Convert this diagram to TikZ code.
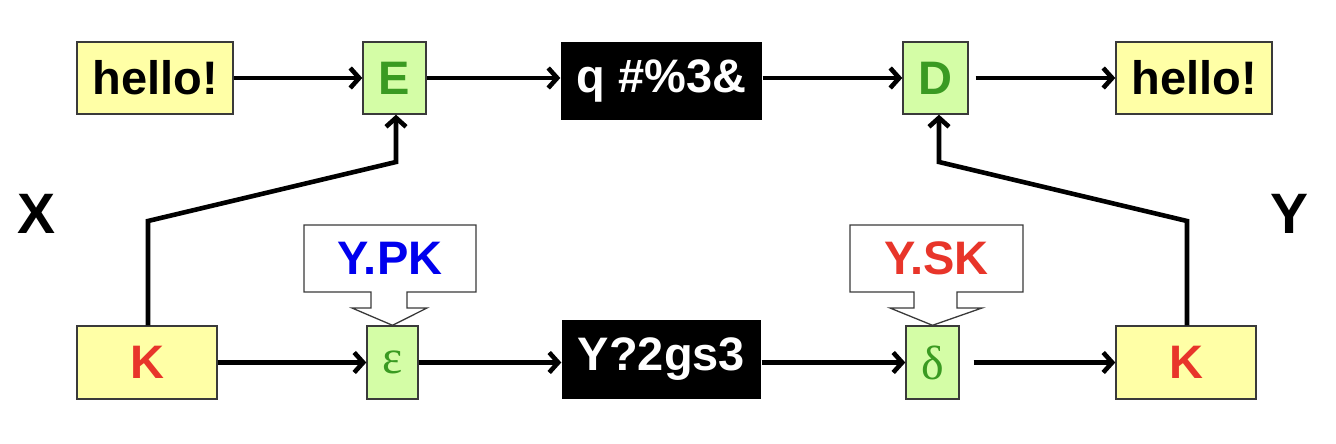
\documentclass[tikz,border=0pt]{standalone}
\usepackage{fontspec}
\setmainfont{Liberation Sans}
\newfontfamily\greekfont{Liberation Serif}
\usetikzlibrary{arrows.meta}
\definecolor{boxyellow}{HTML}{FFFFA6}
\definecolor{boxgreen}{HTML}{D4FDA6}
\definecolor{txtgreen}{HTML}{3A9A22}
\definecolor{txtred}{HTML}{E8352A}
\definecolor{txtblue}{HTML}{0000EE}
\definecolor{edge}{HTML}{3A3A3A}
\tikzset{
  base/.style={inner sep=0pt, font=\fontsize{47}{47}\selectfont\bfseries, line width=1.4pt},
  ybox/.style={base, draw=edge, fill=boxyellow, minimum height=72pt},
  gbox/.style={base, draw=edge, fill=boxgreen, text=txtgreen, minimum width=63pt, minimum height=72pt},
  kbox/.style={base, fill=black, text=white},
  conn/.style={line width=4.6pt, -{Straight Barb[length=9pt,width=20pt]}},
  callout/.style={draw=edge, fill=white, line width=1.3pt},
  side/.style={inner sep=0pt, font=\fontsize{57}{57}\selectfont\bfseries},
  greek/.style={font=\fontsize{48}{48}\greekfont},
}
\begin{document}
\begin{tikzpicture}[x=1pt,y=-1pt]
\useasboundingbox (0,0) rectangle (1336,444);
% top row
\node[ybox, minimum width=156pt] (h1) at (155,78) {hello!};
\node[gbox] (E) at (394.5,78) {E};
\node[kbox, minimum width=201pt, minimum height=78pt] (c1) at (661.5,81) {q \#\%3\&};
\node[gbox, minimum width=65pt] (D) at (935.5,78) {D};
\node[ybox, minimum width=156pt] (h2) at (1194,78) {hello!};
% bottom row
\node[ybox, minimum width=140pt, minimum height=73pt, text=txtred] (K1) at (147,362.5) {K};
\node[gbox, minimum width=51pt, minimum height=73pt, greek] (eps) at (392.5,362.5) {ε};
\node[kbox, minimum width=199pt, minimum height=79pt] (c2) at (661.5,359.5) {Y?2gs3};
\node[gbox, minimum width=53pt, minimum height=73pt, greek] (del) at (932.5,362.5) {δ};
\node[ybox, minimum width=140pt, minimum height=73pt, text=txtred] (K2) at (1186,362.5) {K};
% side labels
\node[side] (X) at (37,214) {X};
\node[side] (Y) at (1289,214) {Y};
% callouts
\draw[callout] (304,225) -- (476,225) -- (476,292) -- (407,292) -- (407,308) -- (427,308) -- (eps.north) -- (352,308) -- (371,308) -- (371,292) -- (304,292) -- cycle;
\node[base, text=txtblue] (ypk) at (390,258.5) {Y.PK};
\draw[callout] (850,225) -- (1023,225) -- (1023,292) -- (957,292) -- (957,308) -- (982,308) -- (del.north) -- (890,308) -- (914,308) -- (914,292) -- (850,292) -- cycle;
\node[base, text=txtred] (ysk) at (936.5,258.5) {Y.SK};
% connectors top
\draw[conn] (h1) -- (E);
\draw[conn] (E) -- (c1.west |- E);
\draw[conn] (c1.east |- D) -- (D);
\draw[conn, shorten <=7pt] (D) -- (h2);
% connectors bottom
\draw[conn] (K1) -- (eps);
\draw[conn] (eps) -- (c2.west |- eps);
\draw[conn] (c2.east |- del) -- (del);
\draw[conn, shorten <=14pt] (del) -- (K2);
% key connectors
\coordinate (b1) at (148,221);
\coordinate (b2) at (396,162);
\coordinate (b3) at (939,162);
\coordinate (b4) at (1187,221);
\draw[conn] (K1.north -| b1) -- (b1) -- (b2) -- (b2 |- E.south);
\draw[conn] (K2.north -| b4) -- (b4) -- (b3) -- (b3 |- D.south);
\end{tikzpicture}
\end{document}
